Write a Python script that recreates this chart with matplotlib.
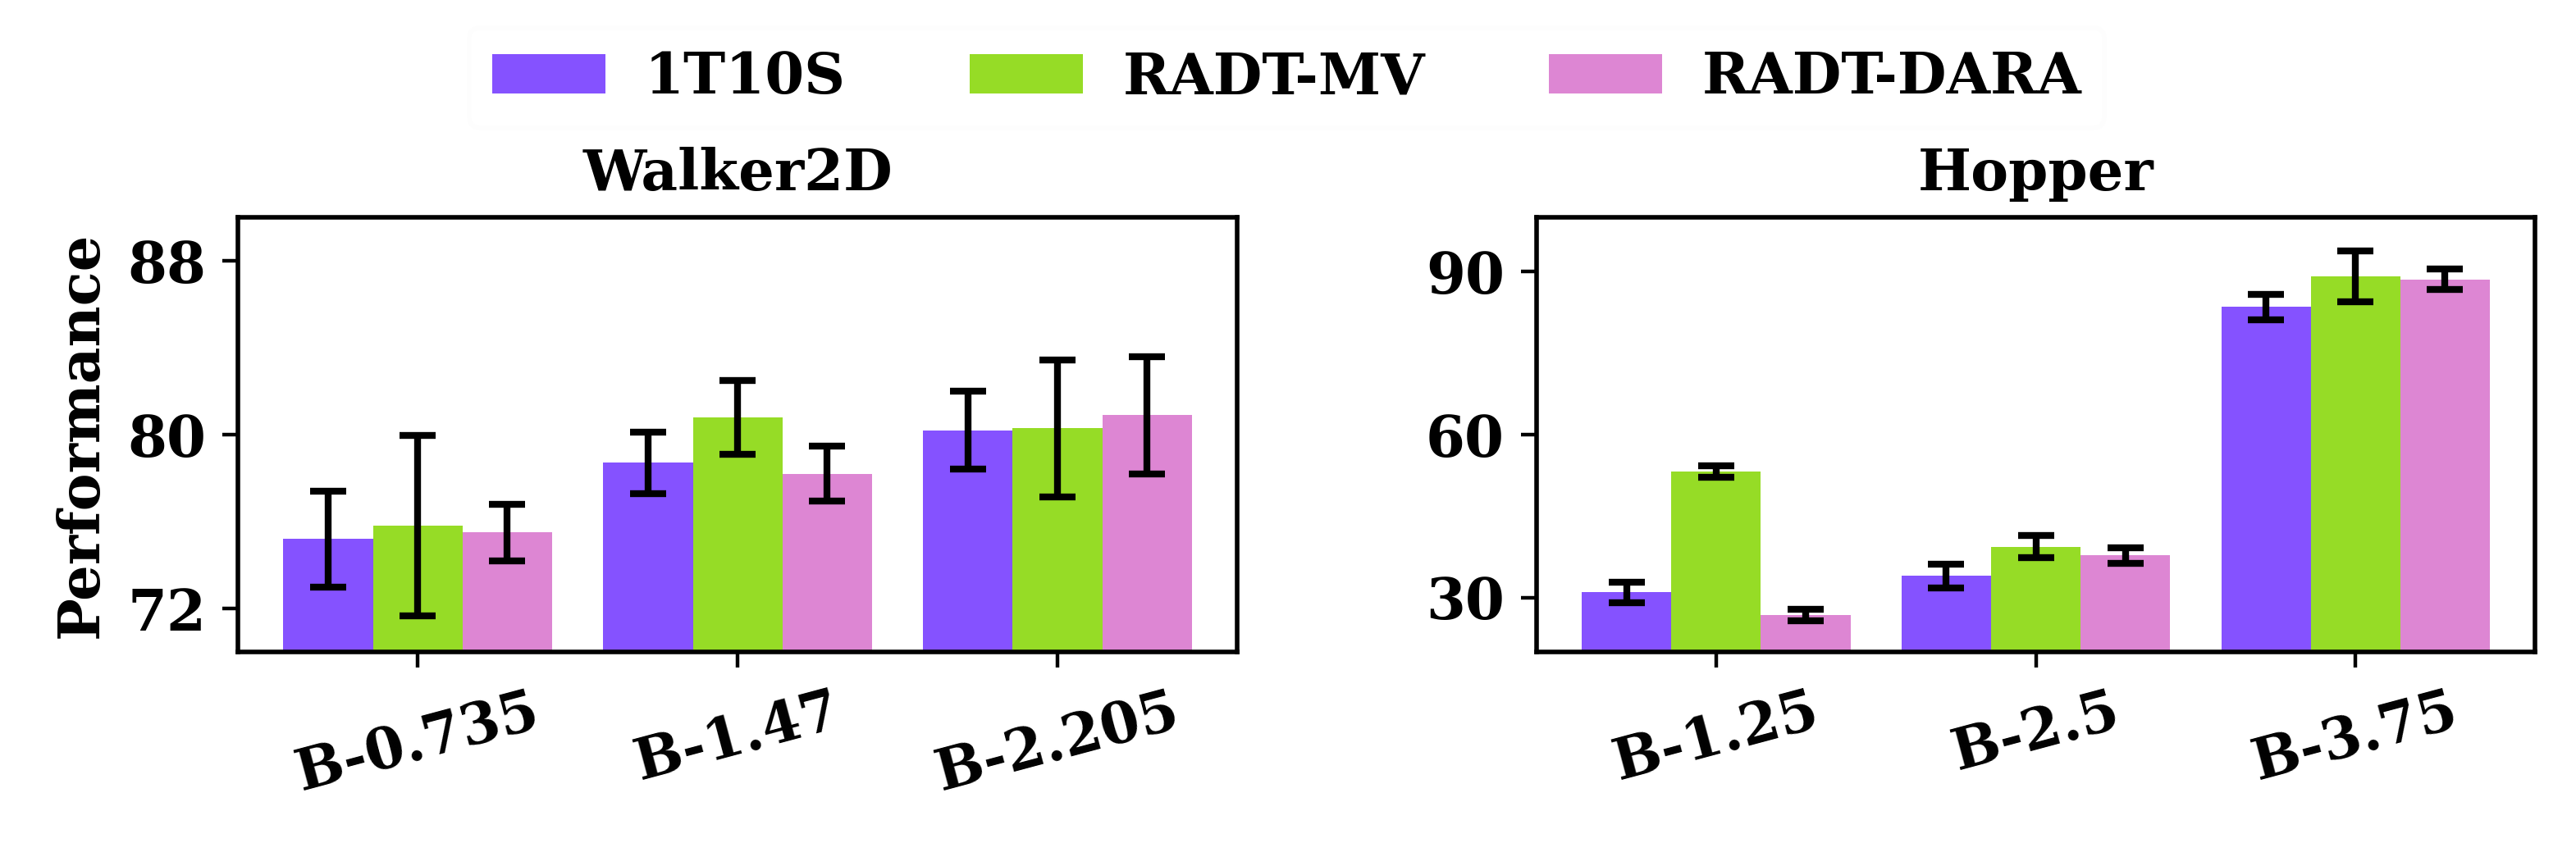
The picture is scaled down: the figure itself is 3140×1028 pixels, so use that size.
import matplotlib
matplotlib.use("Agg")
import matplotlib.pyplot as plt
import numpy as np

plt.rcParams['font.family'] = ['DejaVu Serif']
plt.rcParams['font.weight'] = 'bold'
plt.rcParams['axes.labelweight'] = 'bold'
plt.rcParams['axes.titleweight'] = 'bold'

methods = ["1T10S", "RADT-MV", "RADT-DARA"]
colors = ["#8552FF", "#96DC26", "#DD86D3"]

walker_labels = ["B-0.735", "B-1.47", "B-2.205"]
walker_means = {
    "1T10S": [75.2, 78.7, 80.2],
    "RADT-MV": [75.8, 80.8, 80.3],
    "RADT-DARA": [75.5, 78.2, 80.9],
}
walker_errs = {
    "1T10S": [2.2, 1.4, 1.8],
    "RADT-MV": [4.15, 1.7, 3.15],
    "RADT-DARA": [1.3, 1.27, 2.7],
}

hopper_labels = ["B-1.25", "B-2.5", "B-3.75"]
hopper_means = {
    "1T10S": [31.0, 34.0, 83.5],
    "RADT-MV": [53.2, 39.4, 89.1],
    "RADT-DARA": [26.8, 37.8, 88.6],
}
hopper_errs = {
    "1T10S": [1.9, 2.2, 2.3],
    "RADT-MV": [1.1, 2.0, 4.7],
    "RADT-DARA": [1.05, 1.45, 1.95],
}

fig = plt.figure(figsize=(7.85, 2.57), dpi=400)
ax1 = fig.add_axes([0.0924, 0.2266, 0.3879, 0.5156])
ax2 = fig.add_axes([0.5965, 0.2266, 0.3876, 0.5156])

width = 0.28
fs = 12.4

def draw(ax, labels, means, errs, title, yticks, ylim):
    x = np.arange(len(labels))
    for i, m in enumerate(methods):
        ax.bar(x + (i - 1) * width, means[m], width, color=colors[i], label=m,
               yerr=errs[m], capsize=4,
               error_kw=dict(elinewidth=1.5, capthick=1.5, ecolor='black'))
    ax.set_xticks(x)
    ax.set_xticklabels(labels, rotation=15, fontsize=fs, fontweight='bold')
    ax.set_yticks(yticks)
    ax.set_yticklabels([str(t) for t in yticks], fontsize=fs, fontweight='bold')
    ax.set_ylim(*ylim)
    ax.set_title(title, fontsize=fs, fontweight='bold')
    for s in ax.spines.values():
        s.set_linewidth(1.0)

draw(ax1, walker_labels, walker_means, walker_errs, "Walker2D", [72, 80, 88], (70, 90))
draw(ax2, hopper_labels, hopper_means, hopper_errs, "Hopper", [30, 60, 90], (20, 100))
ax1.set_ylabel("Performance", fontsize=fs, fontweight='bold')

handles, labs = ax1.get_legend_handles_labels()
leg = fig.legend(handles, labs, loc='center', bbox_to_anchor=(0.4995, 0.908), ncol=3,
                 fontsize=fs, frameon=True, columnspacing=2.2, handletextpad=0.7)
leg.get_frame().set_edgecolor('#fdfdfd')
for t in leg.get_texts():
    t.set_fontweight('bold')

fig.savefig("out.png", dpi=400)
